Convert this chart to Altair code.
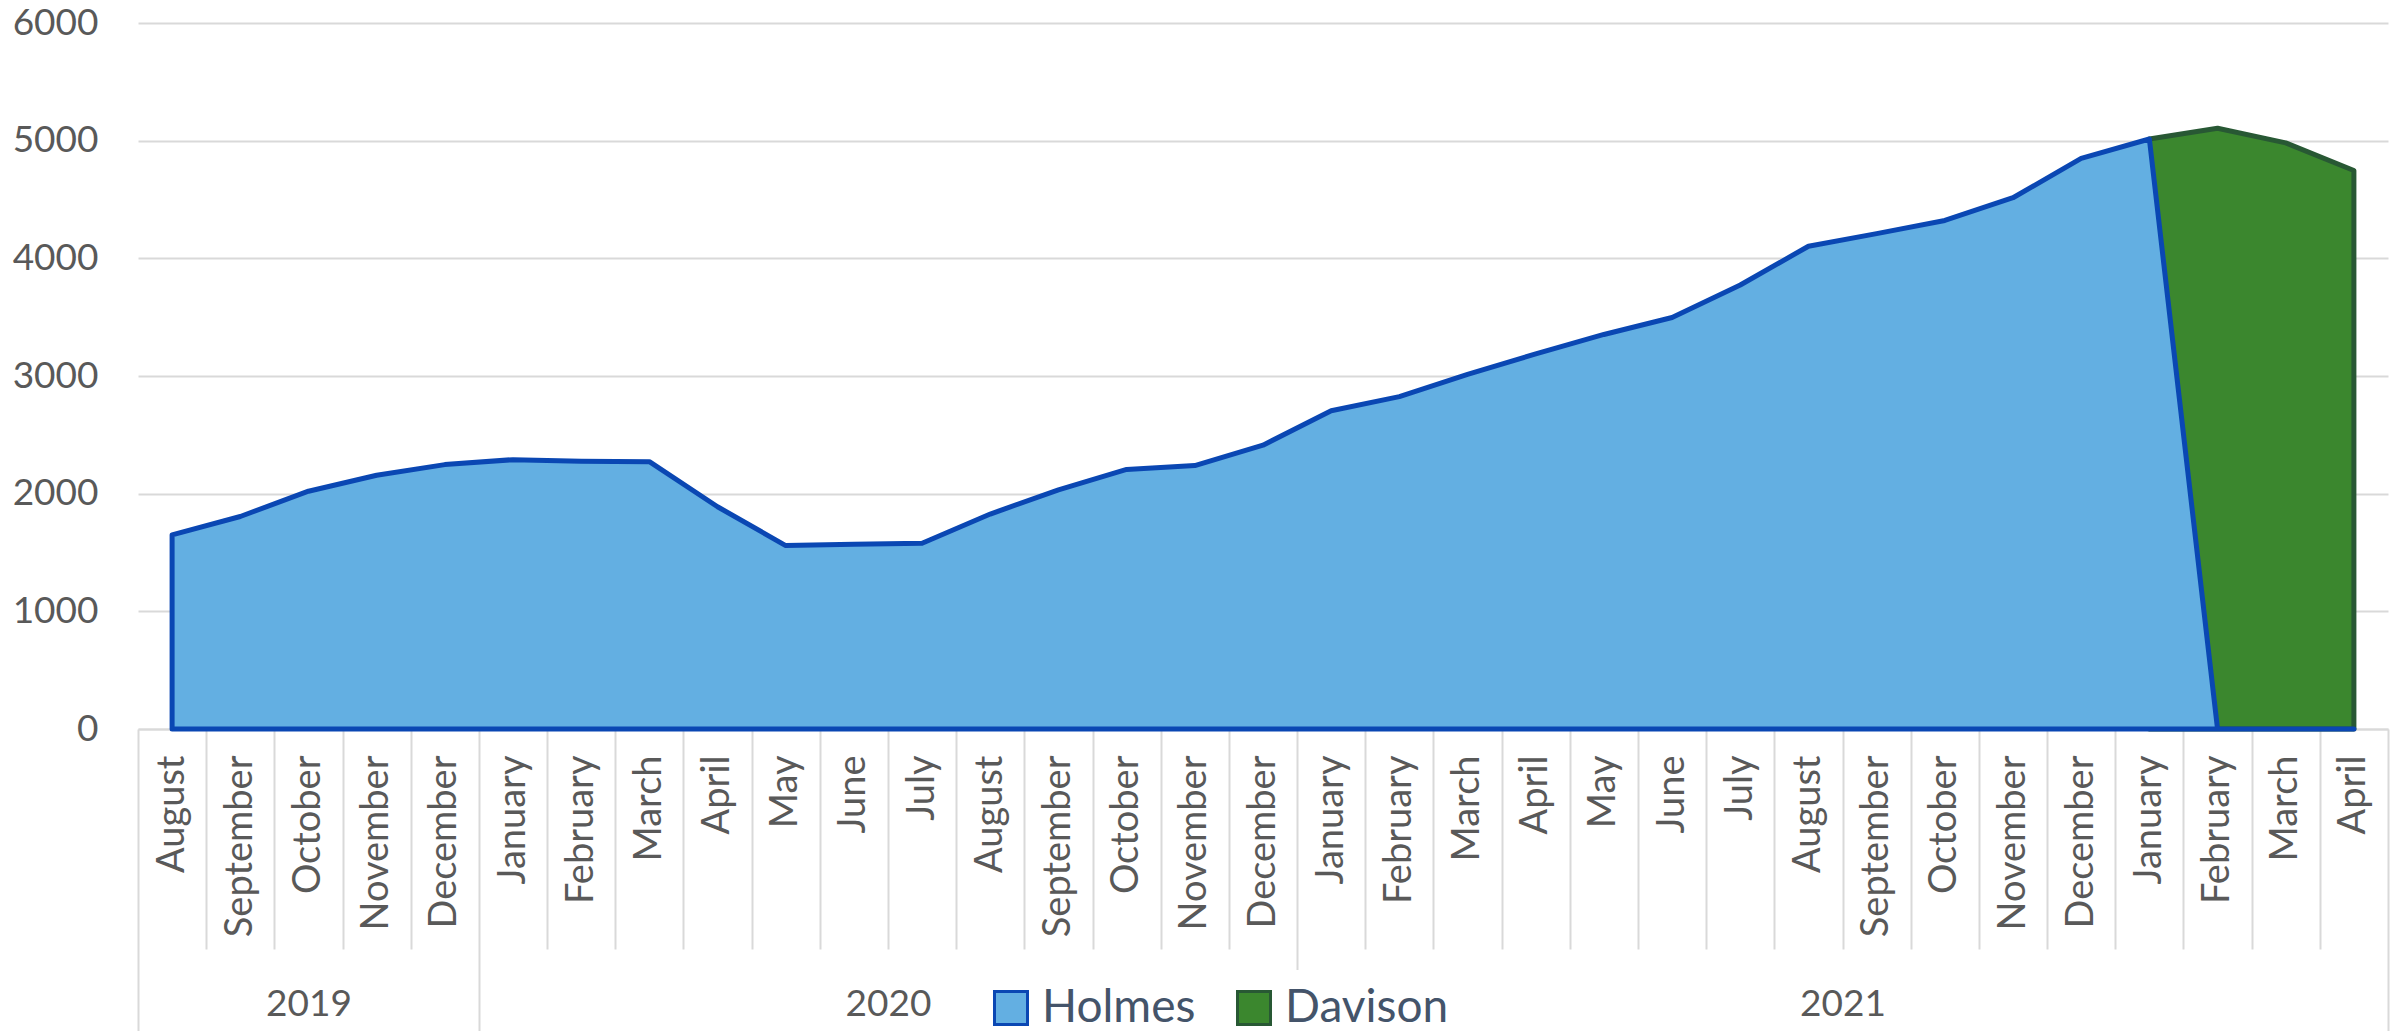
import altair as alt
import pandas as pd

# ---- data ----
months = ["August", "September", "October", "November", "December",
          "January", "February", "March", "April", "May", "June", "July",
          "August", "September", "October", "November", "December",
          "January", "February", "March", "April", "May", "June", "July",
          "August", "September", "October", "November", "December",
          "January", "February", "March", "April"]
years = ["2019", "2020", "2021"]
year_spans = [5, 12, 16]

holmes = [1650, 1806, 2021, 2157, 2247, 2289, 2276, 2272, 1889, 1559, 1571, 1579,
          1827, 2033, 2206, 2239, 2412, 2705, 2825, 3014, 3188, 3353, 3497, 3773,
          4103, 4210, 4322, 4515, 4849, 5014, 0, 0, 0]
davison_first_month = 29  # index of the first month with a Davison value
davison = [5014, 5105, 4981, 4746]

series_names = ["Holmes", "Davison"]
fill_colors = ["#63AFE2", "#3B872E"]
stroke_colors = ["#0A47B3", "#285834"]
y_ticks = [0, 1000, 2000, 3000, 4000, 5000, 6000]

# ---- table ----
rows = [{"pos": i + 0.5, "series": "Holmes", "value": v} for i, v in enumerate(holmes)]
rows += [{"pos": davison_first_month + j + 0.5, "series": "Davison", "value": v}
         for j, v in enumerate(davison)]
df = pd.DataFrame(rows)

n = len(months)
bounds = [0]
for s in year_spans:
    bounds.append(bounds[-1] + s)
centers = [(bounds[k] + bounds[k + 1]) / 2 for k in range(len(years))]

month_expr = "[" + ",".join("'%s'" % m for m in months) + "][floor(datum.value)]"
year_expr = ""
for k in range(len(years) - 1):
    year_expr += "datum.value < %d ? '%s' : " % (bounds[k + 1], years[k])
year_expr += "'%s'" % years[-1]

FONT = "Lato"
GRID = "#d9d9d9"
TXT = "#595959"

xscale = alt.Scale(domain=[0, n], nice=False, zero=False)
yscale = alt.Scale(domain=[0, 6000], nice=False)
fill_scale = alt.Scale(domain=series_names, range=fill_colors)
stroke_scale = alt.Scale(domain=series_names, range=stroke_colors)

yaxis = alt.Axis(values=y_ticks, grid=True, gridColor=GRID, gridWidth=2, domain=False,
                 ticks=False, labelPadding=40, labelFont=FONT, labelFontSize=37,
                 labelColor=TXT, title=None, format="d")

legend = alt.Legend(title=None, orient="none", legendX=835, legendY=947,
                    direction="horizontal", symbolType="square", symbolSize=1089,
                    symbolStrokeWidth=3, symbolOpacity=1, labelFont=FONT,
                    labelFontSize=46, labelColor="#44546A", labelOffset=8,
                    columnPadding=35, padding=15, fillColor="white", labelLimit=0)

axis_months = alt.Axis(orient="bottom", values=[i + 0.5 for i in range(n)],
                       labelExpr=month_expr, labelAngle=270, ticks=False, tickSize=0,
                       domain=True, domainColor=GRID, domainWidth=2, grid=False,
                       labelPadding=26, labelFont=FONT, labelFontSize=38,
                       labelColor=TXT, labelOverlap=False, labelFlush=False,
                       labelBound=False, labelLimit=0, title=None)
axis_month_sep = alt.Axis(orient="bottom",
                          values=[i for i in range(1, n) if i not in bounds],
                          labels=False, ticks=True, tickSize=220, tickColor=GRID,
                          tickWidth=2, domain=False, grid=False, title=None)
axis_year_sep = alt.Axis(orient="bottom", values=bounds, labels=False, ticks=True,
                         tickSize=302, tickColor=GRID, tickWidth=2, domain=False,
                         grid=False, title=None)
axis_years = alt.Axis(orient="bottom", values=centers, labelExpr=year_expr,
                      ticks=False, tickSize=0, domain=False, grid=False,
                      labelPadding=275, labelBaseline="middle", labelAngle=0,
                      labelAlign="center", labelFont=FONT, labelFontSize=37,
                      labelColor=TXT, labelOverlap=False, labelFlush=False,
                      labelLimit=0, title=None)

base = alt.Chart(df)


def area(series, xaxis):
    return base.transform_filter(alt.datum.series == series).mark_area(
        opacity=1, strokeWidth=5, strokeJoin="round"
    ).encode(
        x=alt.X("pos:Q", scale=xscale, axis=xaxis),
        y=alt.Y("value:Q", scale=yscale, axis=yaxis, stack=None),
        fill=alt.Fill("series:N", scale=fill_scale, legend=legend),
        stroke=alt.Stroke("series:N", scale=stroke_scale, legend=legend),
    )


def axis_layer(xaxis):
    return base.transform_filter(alt.datum.series == "Holmes").mark_point(
        opacity=0
    ).encode(
        x=alt.X("pos:Q", scale=xscale, axis=xaxis),
        y=alt.Y("value:Q", scale=yscale, axis=yaxis),
    )


chart = alt.layer(
    area("Davison", axis_months),
    area("Holmes", axis_month_sep),
    axis_layer(axis_year_sep),
    axis_layer(axis_years),
).resolve_axis(x="independent").properties(
    width=2250, height=706,
    autosize=alt.AutoSizeParams(type="none"),
    padding={"left": 130, "top": 15, "right": 3, "bottom": 312},
).configure_view(stroke=None)

chart.save("out.html", embed_options={"renderer": "svg", "actions": False})
